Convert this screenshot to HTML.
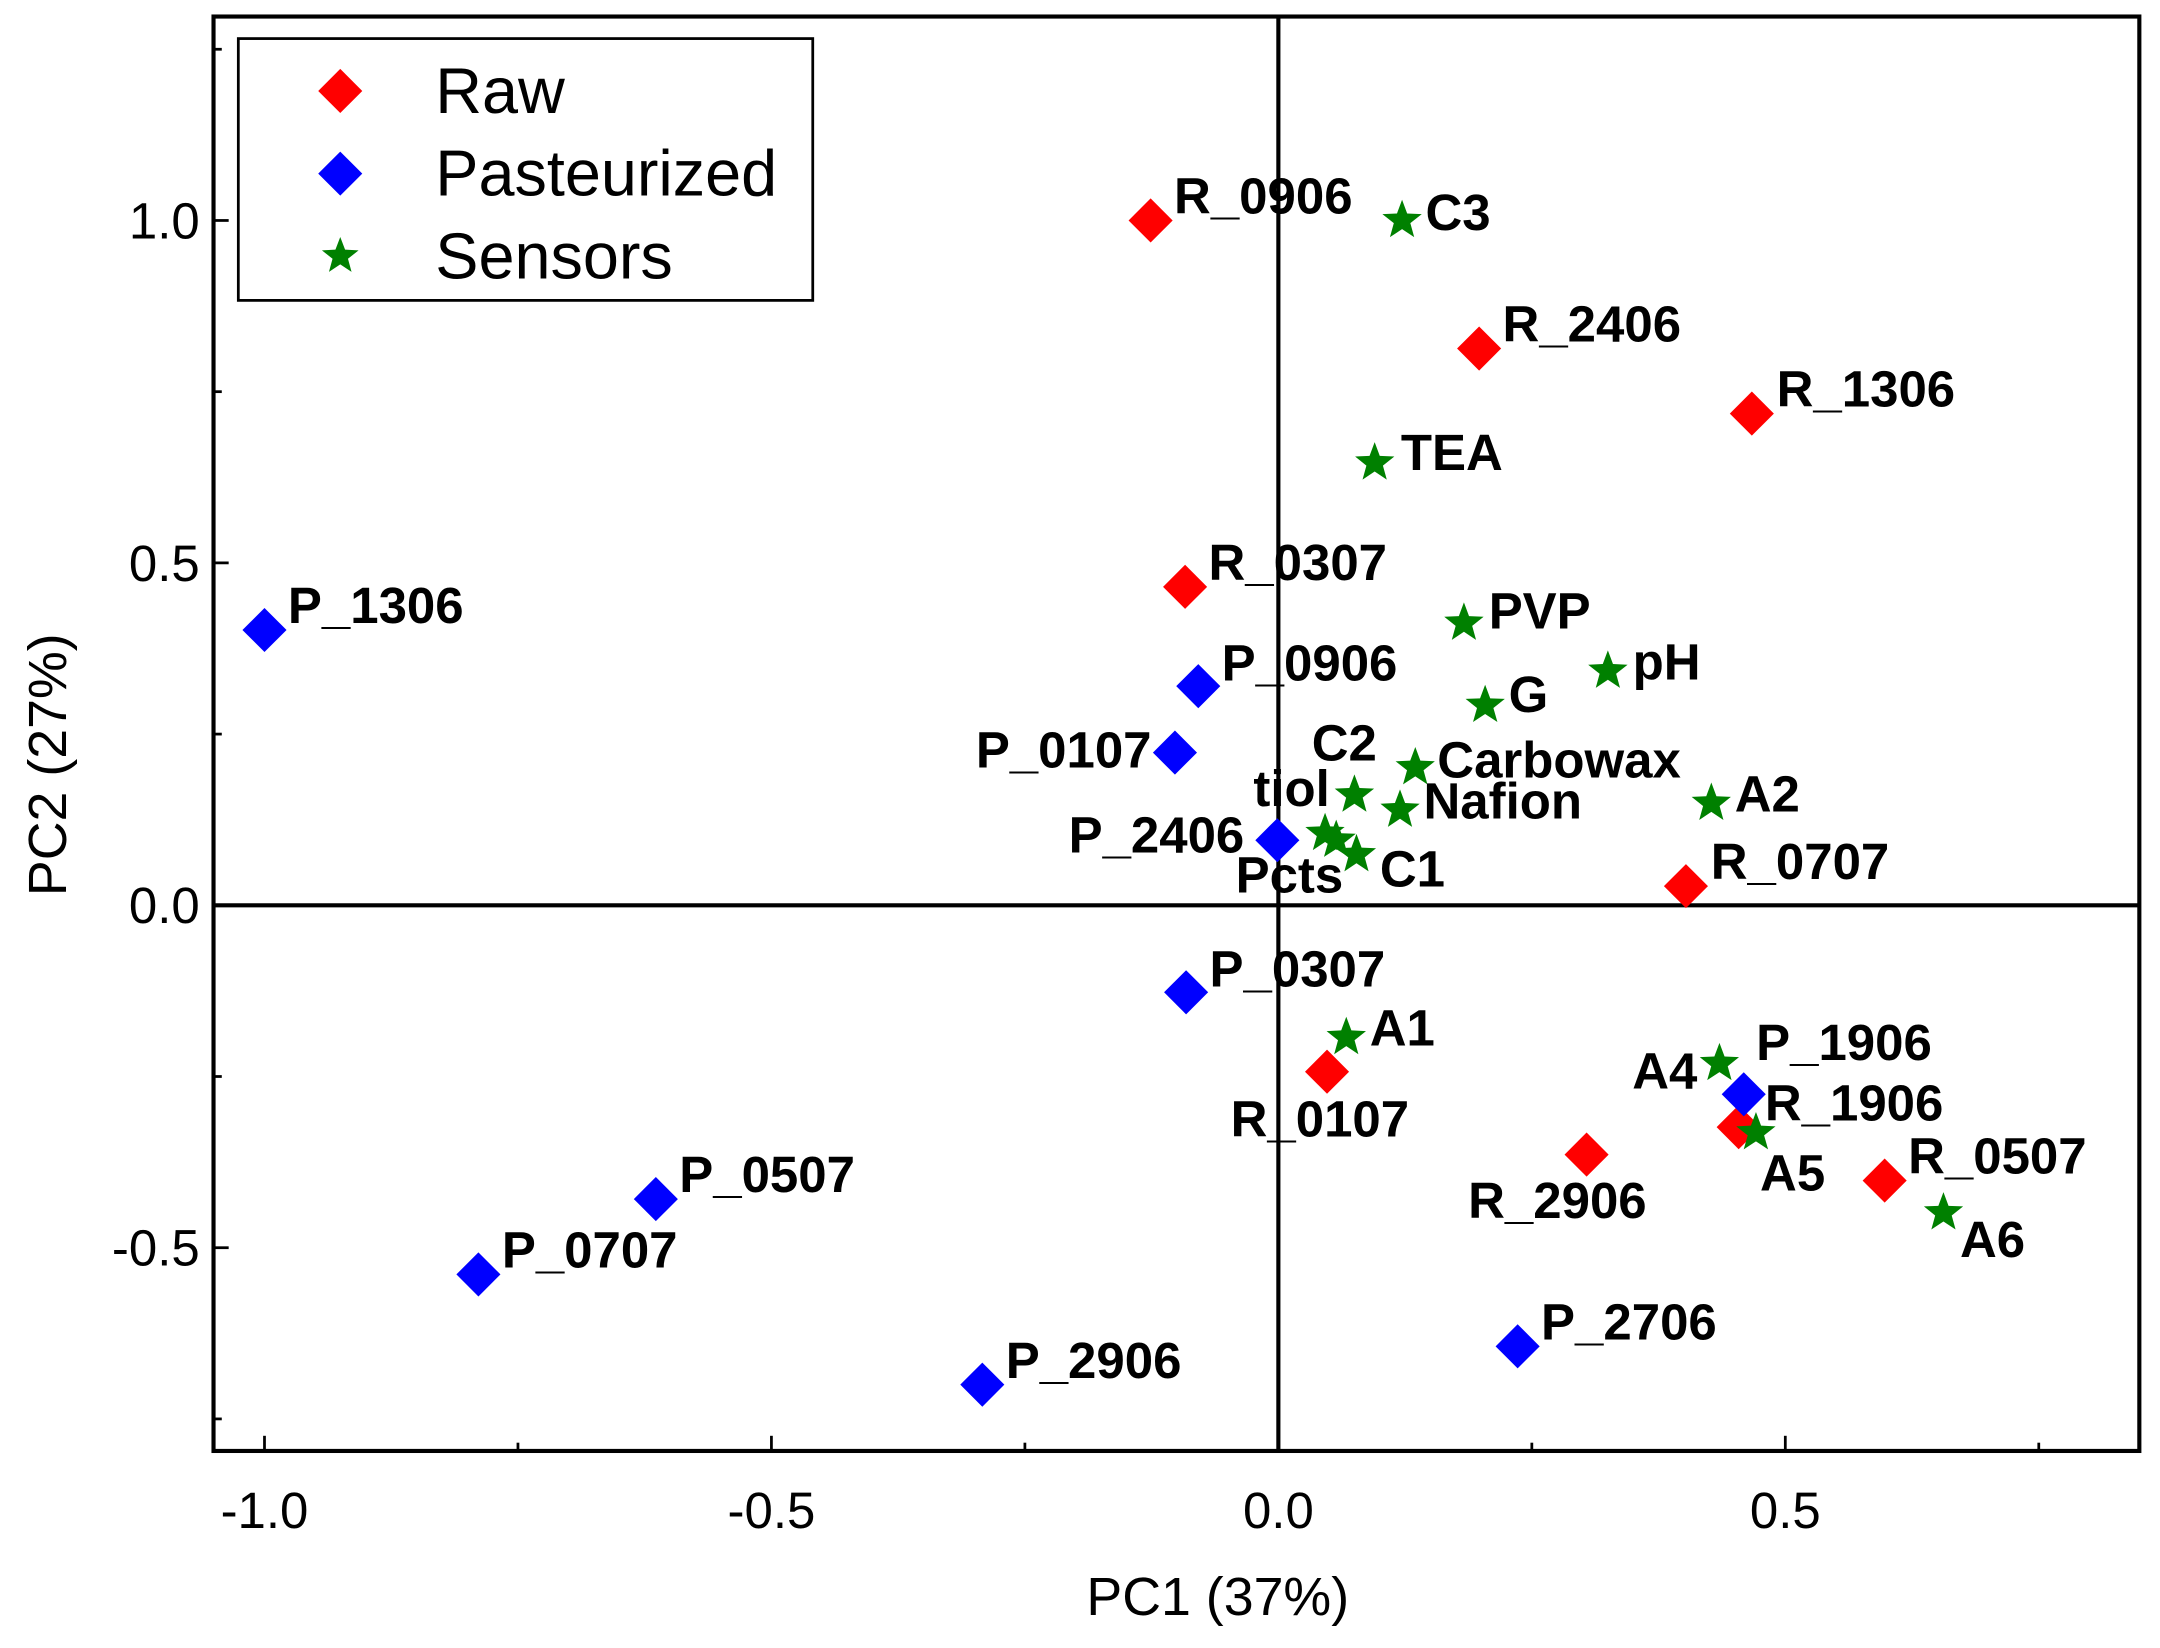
<!DOCTYPE html>
<html><head><meta charset="utf-8"><style>
html,body{margin:0;padding:0;background:#fff;}
svg{display:block;}
text{font-family:"Liberation Sans",Arial,sans-serif;}
.lbl{font-weight:bold;font-size:37px;fill:#000;}
.tick{font-size:37px;fill:#000;}
</style></head><body>
<svg id="chart" width="2160" height="1648" viewBox="0 0 1568 1196" preserveAspectRatio="none" xmlns="http://www.w3.org/2000/svg">
<rect width="1568" height="1196" fill="#fff"/>
<g id="axes"></g>
<g id="marks"></g>
<g>
<rect x="173" y="28" width="417" height="190" fill="#fff" stroke="#000" stroke-width="2"/>
<polygon points="247,50 263,66 247,82 231,66" fill="#ff0000"/>
<text x="316" y="82" font-size="47">Raw</text>
<polygon points="247,110 263,126 247,142 231,126" fill="#0000ff"/>
<text x="316" y="142" font-size="47">Pasteurized</text>
<polygon points="247,172 250.5,181.2 260.3,181.7 252.6,187.8 255.2,197.3 247,191.9 238.8,197.3 241.4,187.8 233.7,181.7 243.5,181.2" fill="#008000"/>
<text x="316" y="202" font-size="47">Sensors</text>
</g>
<text x="884" y="1172" text-anchor="middle" font-size="39">PC1 (37%)</text>
<text x="0" y="0" text-anchor="middle" font-size="39" transform="translate(48,555) rotate(-90)">PC2 (27%)</text>
</svg>
<script>
const rawNames=["R_0906","R_2406","R_1306","R_0307","R_0707","R_0107","R_2906","R_1906","R_0507"];
const rawX=[-0.126,0.198,0.467,-0.092,0.402,0.048,0.304,0.454,0.598];
const rawY=[1.0,0.813,0.718,0.465,0.028,-0.243,-0.364,-0.324,-0.402];
const pastNames=["P_1306","P_0906","P_0107","P_2406","P_0307","P_1906","P_0507","P_0707","P_2906","P_2706"];
const pastX=[-1.0,-0.079,-0.102,-0.001,-0.091,0.459,-0.614,-0.789,-0.292,0.236];
const pastY=[0.402,0.32,0.223,0.095,-0.127,-0.276,-0.429,-0.539,-0.7,-0.644];
const sensNames=["C3","TEA","PVP","pH","G","C2","Carbowax","Nafion","A2","tiol","Pcts","C1","A1","A4","A5","A6"];
const sensX=[0.122,0.095,0.183,0.325,0.204,0.075,0.135,0.12,0.427,0.046,0.057,0.077,0.067,0.435,0.471,0.656];
const sensY=[1.0,0.646,0.412,0.342,0.292,0.161,0.201,0.139,0.149,0.105,0.095,0.074,-0.193,-0.231,-0.332,-0.449];
const xTicks=[-1.0,-0.5,0.0,0.5];
const xTickLabels=["-1.0","-0.5","0.0","0.5"];
const yTicks=[-0.5,0.0,0.5,1.0];
const yTickLabels=["-0.5","0.0","0.5","1.0"];

const L=155,R=1553,T=12,B=1053;
const xs=v=>928+736*v;
const ys=v=>657-497*v;
const off={R_0906:[17,-5],C3:[17,7],R_2406:[17,-5],R_1306:[18,-5],TEA:[19,5],R_0307:[17,-5],P_1306:[17,-5],PVP:[18,4],pH:[18,6],P_0906:[17,-4],G:[17,5],P_0107:[-17,11,'end'],C2:[-31,-25],Carbowax:[16,7],tiol:[-52,-20],Nafion:[17,6],A2:[17,6],P_2406:[-24,9,'end'],Pcts:[-73,38],C1:[17,23],R_0707:[18,-5],P_0307:[17,-4],A1:[17,6],P_1906:[9,-25],A4:[-16,18,'end'],R_1906:[19,-5],R_0107:[-70,47],A5:[3,42],R_0507:[17,-5],R_2906:[-86,46],A6:[12,32],P_0507:[17,-5],P_0707:[17,-5],P_2906:[17,-5],P_2706:[17,-5]};

const NS="http://www.w3.org/2000/svg";
function mk(tag,attrs,parent){const e=document.createElementNS(NS,tag);for(const k in attrs)e.setAttribute(k,attrs[k]);parent.appendChild(e);return e;}
const axes=document.getElementById('axes'),marks=document.getElementById('marks');

let e=mk('rect',{x:L,y:T,width:R-L,height:B-T,fill:'none',stroke:'#000','stroke-width':3},axes);


e=mk('line',{x1:xs(0),x2:xs(0),y1:T,y2:B,stroke:'#000','stroke-width':3},axes);


e=mk('line',{x1:L,x2:R,y1:ys(0),y2:ys(0),stroke:'#000','stroke-width':3},axes);



xTicks.forEach((v,i)=>{
  const t=mk('line',{x1:xs(v),x2:xs(v),y1:B,y2:B-11,stroke:'#000','stroke-width':2},axes);
  
  
  const m=mk('line',{x1:xs(v+0.25),x2:xs(v+0.25),y1:B,y2:B-6,stroke:'#000','stroke-width':2},axes);
  
  
  const tx=mk('text',{x:xs(v),y:1109,'text-anchor':'middle',class:'tick'},axes);
  tx.textContent=xTickLabels[i];
  
  
});
yTicks.forEach((v,i)=>{
  const t=mk('line',{x1:L,x2:L+11,y1:ys(v),y2:ys(v),stroke:'#000','stroke-width':2},axes);
  
  
  const m=mk('line',{x1:L,x2:L+6,y1:ys(v+0.25),y2:ys(v+0.25),stroke:'#000','stroke-width':2},axes);
  
  
  const tx=mk('text',{x:145,y:ys(v)+13,'text-anchor':'end',class:'tick'},axes);
  tx.textContent=yTickLabels[i];
  
  
});
{const m=mk('line',{x1:L,x2:L+6,y1:ys(-0.75),y2:ys(-0.75),stroke:'#000','stroke-width':2},axes);

}

function diamond(cx,cy,r){return `${cx},${cy-r} ${cx+r},${cy} ${cx},${cy+r} ${cx-r},${cy}`;}
function star(cx,cy,R){let p=[];const r=R*0.42;for(let k=0;k<10;k++){const a=-Math.PI/2+k*Math.PI/5;const rr=k%2?r:R;p.push((cx+rr*Math.cos(a)).toFixed(1)+','+(cy+rr*Math.sin(a)).toFixed(1));}return p.join(' ');}
function label(name,px,py){
  const o=off[name]||[17,-5];
  const t=mk('text',{x:px+o[0],y:py+o[1],class:'lbl','text-anchor':o[2]||'start'},marks);
  t.textContent=name;
  
  
}
rawNames.forEach((n,i)=>{
  const p=mk('polygon',{points:diamond(xs(rawX[i]),ys(rawY[i]),16),fill:'#ff0000'},marks);
  
  
});
pastNames.forEach((n,i)=>{
  const p=mk('polygon',{points:diamond(xs(pastX[i]),ys(pastY[i]),16),fill:'#0000ff'},marks);
  
  
});
sensNames.forEach((n,i)=>{
  const p=mk('polygon',{points:star(xs(sensX[i]),ys(sensY[i]),15),fill:'#008000'},marks);
  
  
});
rawNames.forEach((n,i)=>label(n,xs(rawX[i]),ys(rawY[i])));
pastNames.forEach((n,i)=>label(n,xs(pastX[i]),ys(pastY[i])));
sensNames.forEach((n,i)=>label(n,xs(sensX[i]),ys(sensY[i])));
</script>
</body></html>
